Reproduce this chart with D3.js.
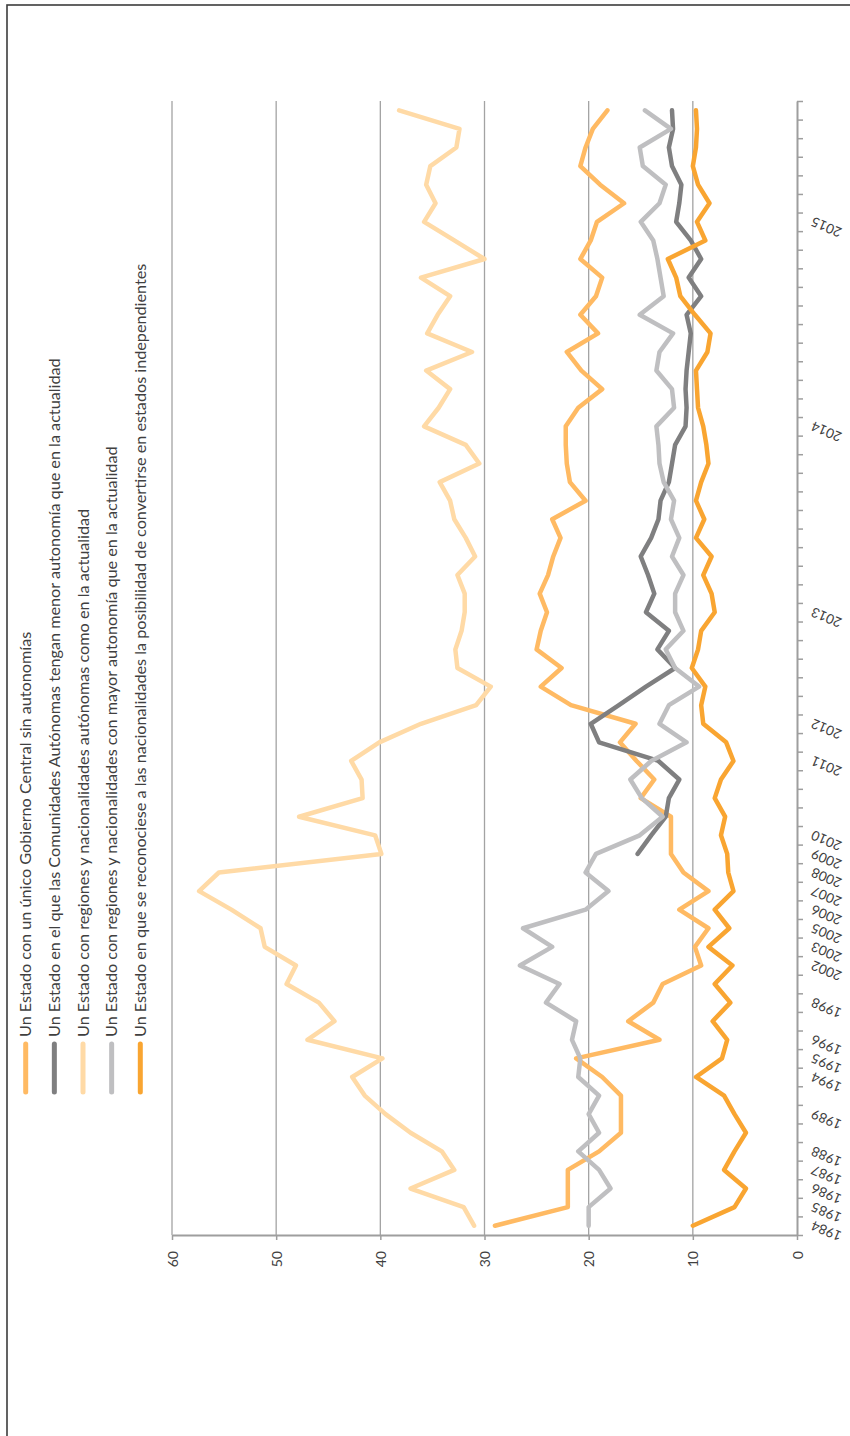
<!DOCTYPE html>
<html>
<head>
<meta charset="utf-8">
<script src="https://cdn.jsdelivr.net/npm/d3@7"></script>
<style>
  body { margin: 0; background: #fff; }
  svg { display: block; }
  text { font-family: Lato, "Open Sans", sans-serif; }
</style>
</head>
<body>
<svg id="chart" width="850" height="1436"></svg>
<script>
// Survey waves: the year is written at the first wave of each year
const categoryLabels = [
  "1984", "1985", "1986", "1987", "1988", "", "1989", "", "1994", "1995",
  "1996", "", "1998", "", "2002", "2003", "2005", "2006", "2007", "2008",
  "2009", "2010", "", "", "", "2011", "", "2012", "", "",
  "", "", "", "2013", "", "", "", "", "", "",
  "", "", "", "2014", "", "", "", "", "", "",
  "", "", "", "", "2015", "", "", "", "", "",
  ""
];

const valueTicks = [0, 10, 20, 30, 40, 50, 60];

const seriesNames = [
  "Un Estado con un único Gobierno Central sin autonomías",
  "Un Estado en el que las Comunidades Autónomas tengan menor autonomía que en la actualidad",
  "Un Estado con regiones y nacionalidades autónomas como en la actualidad",
  "Un Estado con regiones y nacionalidades con mayor autonomía que en la actualidad",
  "Un Estado en que se reconociese a las nacionalidades la posibilidad de convertirse en estados independientes"
];

const seriesColors = ["#FFBA63", "#7F7F80", "#FFDAA6", "#BFBFC1", "#F9A531"];

const unico = [
  29.0, 22.0, 22.0, 22.0, 19.0, 16.9, 16.9, 16.9, 18.7, 21.2,
  13.2, 16.2, 13.8, 12.9, 9.2, 9.8, 8.5, 11.3, 8.5, 10.9,
  12.1, 12.1, 12.1, 15.0, 13.7, 15.4, 17.0, 15.5, 21.7, 24.6,
  22.6, 25.0, 24.6, 24.0, 24.7, 23.9, 23.4, 22.7, 23.5, 20.3,
  21.8, 22.1, 22.2, 22.2, 21.0, 18.7, 20.7, 22.1, 19.1, 20.8,
  19.3, 18.7, 20.8, 19.8, 19.2, 16.6, 18.9, 20.8, 20.3, 19.6,
  18.2
];

const menor = [
  null, null, null, null, null, null, null, null, null, null,
  null, null, null, null, null, null, null, null, null, null,
  15.3, 14.0, 12.6, 12.3, 11.3, 13.3, 19.0, 19.8, 17.1, 14.5,
  11.7, 13.4, 12.3, 14.5, 13.7, 14.3, 15.0, 14.0, 13.3, 13.1,
  12.3, 12.0, 11.7, 10.7, 10.6, 10.7, 10.6, 10.4, 10.2, 10.6,
  9.2, 10.4, 9.2, 10.2, 11.6, 11.3, 11.1, 12.0, 12.3, 11.9,
  12.0
];

const actual = [
  31.0, 32.0, 37.1, 32.9, 34.1, 37.1, 39.5, 41.5, 42.7, 39.8,
  47.0, 44.4, 45.9, 49.0, 48.1, 51.1, 51.5, 54.3, 57.4, 55.5,
  39.9, 40.5, 47.8, 41.7, 41.8, 42.8, 40.1, 36.1, 30.8, 29.4,
  32.6, 32.8, 32.2, 31.9, 31.9, 32.6, 30.9, 31.8, 32.9, 33.3,
  34.3, 30.5, 31.8, 35.8, 34.4, 33.3, 35.6, 31.2, 35.5, 34.5,
  33.3, 36.1, 30.0, 32.9, 35.8, 34.7, 35.6, 35.2, 32.7, 32.4,
  38.2
];

const mayor = [
  20.0, 20.0, 17.9, 19.0, 21.0, 19.0, 20.0, 19.0, 21.0, 20.8,
  21.6, 21.2, 24.1, 22.8, 26.6, 23.5, 26.3, 20.3, 18.1, 20.3,
  19.3, 15.1, 12.9, 14.9, 16.0, 14.0, 10.6, 13.2, 12.3, 9.4,
  11.7, 12.6, 10.9, 11.7, 11.7, 10.9, 12.0, 11.3, 12.1, 11.8,
  12.8, 13.2, 13.3, 13.5, 11.8, 12.0, 13.5, 13.2, 11.9, 15.1,
  12.8, 13.1, 13.4, 13.8, 15.0, 13.2, 12.6, 14.8, 15.1, 12.1,
  14.6
];

const indep = [
  10.0, 6.0, 4.9, 7.0, 6.0, 4.9, 6.0, 7.0, 9.7, 7.2,
  6.7, 8.1, 6.4, 7.9, 6.2, 8.5, 6.5, 7.9, 6.1, 6.6,
  6.7, 7.3, 6.9, 7.9, 7.3, 6.1, 6.8, 9.0, 9.2, 8.8,
  10.1, 9.5, 9.2, 7.9, 8.2, 9.0, 8.2, 9.7, 8.9, 9.7,
  9.2, 8.5, 8.7, 9.0, 9.5, 9.6, 9.7, 8.6, 8.3, 9.8,
  11.2, 11.6, 12.4, 8.8, 9.6, 8.4, 9.5, 10.0, 9.7, 9.6,
  9.7
];

const seriesValues = [unico, menor, actual, mayor, indep];

// ---- layout ----
const plot = { left: 172, right: 797, top: 101, bottom: 1235 };
const svg = d3.select("#chart");

const x = d3.scaleLinear().domain([0, 60]).range([plot.right, plot.left]);
const y = d3.scaleBand().domain(d3.range(categoryLabels.length)).range([plot.bottom, plot.top]);
const yEdge = d3.scaleLinear().domain([0, categoryLabels.length]).range([plot.bottom, plot.top]);

// outer frame
svg.append("rect")
  .attr("x", 7).attr("y", 5)
  .attr("width", 1000).attr("height", 1600)
  .attr("fill", "none").attr("stroke", "#3c3c3c").attr("stroke-width", 1.6);

// vertical gridlines
svg.append("g").selectAll("line")
  .data(valueTicks.filter(v => v > 0))
  .join("line")
  .attr("x1", d => x(d)).attr("x2", d => x(d))
  .attr("y1", plot.top).attr("y2", plot.bottom)
  .attr("stroke", "#a3a3a3").attr("stroke-width", 1.3);

// value axis along the bottom
const xAxis = svg.append("g")
  .attr("transform", `translate(0,${plot.bottom})`)
  .call(d3.axisBottom(x).tickValues(valueTicks).tickSize(5).tickSizeOuter(0));
xAxis.select(".domain").attr("stroke", "#9e9e9e").attr("stroke-width", 2);
xAxis.selectAll(".tick line").attr("stroke", "#9e9e9e").attr("stroke-width", 1.5);
xAxis.selectAll(".tick text")
  .attr("transform", "rotate(-90)")
  .attr("x", -16).attr("y", 0).attr("dy", "0.36em")
  .attr("text-anchor", "end")
  .attr("fill", "#404040")
  .style("font-size", "14px");

// category axis on the right: ticks between waves
const yAxisTicks = svg.append("g")
  .attr("transform", `translate(${plot.right},0)`)
  .call(d3.axisRight(yEdge).tickValues(d3.range(categoryLabels.length + 1)).tickSize(6).tickSizeOuter(0).tickFormat(""));
yAxisTicks.select(".domain").attr("stroke", "#9e9e9e").attr("stroke-width", 2);
yAxisTicks.selectAll(".tick line").attr("stroke", "#9e9e9e").attr("stroke-width", 1.5);

const yAxisLabels = svg.append("g")
  .attr("transform", `translate(${plot.right},0)`)
  .call(d3.axisRight(y).tickSize(0).tickFormat(i => categoryLabels[i]));
yAxisLabels.select(".domain").remove();
yAxisLabels.selectAll(".tick text")
  .attr("x", 0).attr("dy", "0.35em")
  .attr("transform", "translate(15,-1) rotate(203)")
  .attr("text-anchor", "end")
  .attr("fill", "#404040")
  .style("font-size", "13.5px");

// series lines
const line = d3.line()
  .defined(d => d != null)
  .x(d => x(d))
  .y((d, i) => y(i) + y.bandwidth() / 2);

svg.append("g").selectAll("path")
  .data(seriesValues)
  .join("path")
  .attr("d", d => line(d))
  .attr("fill", "none")
  .attr("stroke", (d, i) => seriesColors[i])
  .attr("stroke-width", 4.5)
  .attr("stroke-linejoin", "round")
  .attr("stroke-linecap", "round");

// legend, stacked from the left edge
const legend = svg.append("g").selectAll("g")
  .data(seriesNames)
  .join("g")
  .attr("transform", (d, i) => `translate(${25.7 + i * 28.65},0)`);

legend.append("line")
  .attr("x1", 0).attr("x2", 0)
  .attr("y1", 1044).attr("y2", 1092)
  .attr("stroke", (d, i) => seriesColors[i])
  .attr("stroke-width", 5)
  .attr("stroke-linecap", "round");

legend.append("text")
  .attr("transform", "translate(0,1037) rotate(-90)")
  .attr("dy", "0.35em")
  .attr("text-anchor", "start")
  .attr("fill", "#404040")
  .style("font-size", "16.2px")
  .text(d => d);
</script>
</body>
</html>
